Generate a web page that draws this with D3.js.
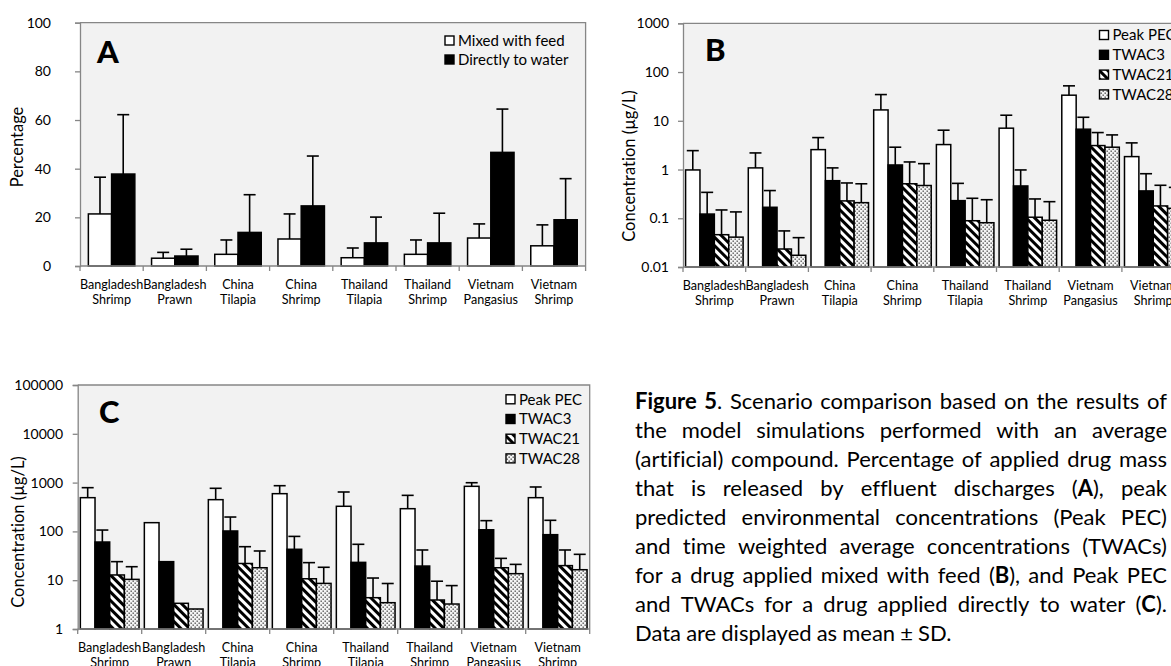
<!DOCTYPE html>
<html>
<head>
<meta charset="utf-8">
<script src="https://cdn.jsdelivr.net/npm/d3@7"></script>
<style>
  body { margin: 0; background: #fff; }
  svg { display: block; }
  text { font-variant-ligatures: none; font-feature-settings: "liga" 0; }
</style>
</head>
<body>
<svg id="fig" width="1171" height="666"></svg>
<script>
// ---- data -------------------------------------------------------------
const categories = ["Bangladesh Shrimp", "Bangladesh Prawn", "China Tilapia", "China Shrimp",
                    "Thailand Tilapia", "Thailand Shrimp", "Vietnam Pangasius", "Vietnam Shrimp"];

// A: percentage of applied drug mass released by effluent discharges
const feedMean  = [21.4, 3.2, 4.8, 11.1, 3.4, 4.8, 11.5, 8.3];
const feedSD    = [15.1, 2.4, 5.9, 10.3, 4.0, 5.9, 5.8, 8.6];
const waterMean = [37.8, 4.1, 13.8, 24.7, 9.5, 9.5, 46.7, 19.0];
const waterSD   = [24.4, 2.8, 15.5, 20.5, 10.6, 12.2, 17.8, 16.9];

// B: concentrations (µg/L), drug mixed with feed
const peakB    = [0.98, 1.08, 2.56, 16.7, 3.25, 7.05, 33.5, 1.84];
const peakBsd  = [1.46, 1.11, 1.96, 17.8, 3.16, 5.95, 18.6, 1.68];
const twac3B   = [0.122, 0.168, 0.59, 1.24, 0.23, 0.46, 6.72, 0.364];
const twac3Bsd = [0.218, 0.202, 0.49, 1.63, 0.29, 0.52, 5.08, 0.456];
const twac21B  = [0.046, 0.0234, 0.227, 0.51, 0.089, 0.105, 3.10, 0.179];
const twac21Bsd= [0.102, 0.0316, 0.303, 0.92, 0.168, 0.144, 2.63, 0.296];
const twac28B  = [0.041, 0.0174, 0.209, 0.47, 0.081, 0.091, 2.87, 0.16];
const twac28Bsd= [0.094, 0.0226, 0.301, 0.85, 0.159, 0.128, 2.26, 0.27];

// C: concentrations (µg/L), drug applied directly to water
const peakC    = [491, 151, 447, 593, 327, 292, 839, 491];
const peakCsd  = [296, 0, 317, 271, 315, 256, 156, 322];
const twac3C   = [60.6, 24, 102, 43, 23.2, 19.5, 108, 85.7];
const twac3Csd = [46, 0, 95, 36, 31.2, 22.1, 58, 83];
const twac21C  = [12.8, 3.36, 22, 10.7, 4.38, 3.93, 18, 19.9];
const twac21Csd= [11.2, 0, 26.6, 12.2, 6.7, 5.6, 10, 21.7];
const twac28C  = [10.4, 2.57, 18, 8.6, 3.46, 3.25, 13.6, 16.4];
const twac28Csd= [8.5, 0, 21.7, 9.8, 5.1, 4.5, 7.5, 17.5];

const ticksA = [0, 20, 40, 60, 80, 100];
const ticksB = [0.01, 0.1, 1, 10, 100, 1000];
const ticksC = [1, 10, 100, 1000, 10000, 100000];

const seriesNamesA = ["Mixed with feed", "Directly to water"];
const seriesNamesBC = ["Peak PEC", "TWAC3", "TWAC21", "TWAC28"];

const captionLines = [
  "**Figure 5**. Scenario comparison based on the results of",
  "the model simulations performed with an average",
  "(artificial) compound. Percentage of applied drug mass",
  "that is released by effluent discharges (**A**), peak",
  "predicted environmental concentrations (Peak PEC)",
  "and time weighted average concentrations (TWACs)",
  "for a drug applied mixed with feed (**B**), and Peak PEC",
  "and TWACs for a drug applied directly to water (**C**).",
  "Data are displayed as mean ± SD."
];

// ---- drawing ----------------------------------------------------------
const FONT = "Lato, 'Open Sans', sans-serif";
const AXIS = "#868686";
const svg = d3.select("#fig");
const defs = svg.append("defs");

// wide downward diagonal stripes
const hatch = defs.append("pattern").attr("id", "hatch")
  .attr("patternUnits", "userSpaceOnUse").attr("width", 6).attr("height", 6)
  .attr("patternTransform", "rotate(-45)");
hatch.append("rect").attr("width", 6).attr("height", 6).attr("fill", "#fff");
hatch.append("rect").attr("width", 3).attr("height", 6).attr("fill", "#000");

// dotted grid
const dots = defs.append("pattern").attr("id", "dots")
  .attr("patternUnits", "userSpaceOnUse").attr("width", 4).attr("height", 4);
dots.append("rect").attr("width", 4).attr("height", 4).attr("fill", "#f4f4f4");
dots.append("rect").attr("x", 0.5).attr("y", 0.5).attr("width", 1.4).attr("height", 1.4).attr("fill", "#555");
dots.append("rect").attr("x", 2.5).attr("y", 2.5).attr("width", 1.4).attr("height", 1.4).attr("fill", "#555");

const fillsBC = ["#fff", "#000", "url(#hatch)", "url(#dots)"];
const fillsA = ["#fff", "#000"];

function drawPanel(cfg) {
  const g = svg.append("g");
  const x = d3.scaleBand().domain(categories)
    .range([cfg.left, cfg.right]).paddingInner(0).paddingOuter(0);
  const xi = d3.scaleBand().domain(d3.range(cfg.series.length))
    .range([0, x.bandwidth()]).paddingInner(0).paddingOuter(cfg.groupPad);
  const y = (cfg.log ? d3.scaleLog() : d3.scaleLinear())
    .domain(cfg.domain).range([cfg.bottom, cfg.top]);
  const base = cfg.domain[0];

  // plot area
  g.append("rect").attr("x", cfg.left).attr("y", cfg.top)
    .attr("width", cfg.right - cfg.left).attr("height", cfg.bottom - cfg.top)
    .attr("fill", "#f2f2f2");

  // bars
  cfg.series.forEach((s, si) => {
    g.append("g").selectAll("rect").data(s.mean).join("rect")
      .attr("x", (d, i) => x(categories[i]) + xi(si))
      .attr("y", d => y(d))
      .attr("width", xi.bandwidth())
      .attr("height", d => y(base) - y(d))
      .attr("fill", cfg.fills[si])
      .attr("stroke", "#000").attr("stroke-width", 1.5);
  });

  // error bars (upper half, mean + SD)
  cfg.series.forEach((s, si) => {
    const eg = g.append("g").attr("stroke", "#000").attr("stroke-width", 1.6).attr("fill", "none");
    s.mean.forEach((m, i) => {
      if (!s.sd[i]) return;
      const cx = x(categories[i]) + xi(si) + xi.bandwidth() / 2;
      const yt = y(m + s.sd[i]);
      eg.append("line").attr("x1", cx).attr("x2", cx).attr("y1", y(m)).attr("y2", yt);
      eg.append("line").attr("x1", cx - 6).attr("x2", cx + 6).attr("y1", yt).attr("y2", yt);
    });
  });

  // frame: top and right
  g.append("path")
    .attr("d", `M${cfg.left},${cfg.top}H${cfg.right}V${cfg.bottom}`)
    .attr("fill", "none").attr("stroke", AXIS).attr("stroke-width", 1.3);

  // y axis
  const ya = d3.axisLeft(y).tickValues(cfg.ticks).tickSize(5)
    .tickPadding(cfg.left - cfg.labelRight - 5)
    .tickFormat(d => String(d));
  const yg = g.append("g").attr("transform", `translate(${cfg.left},0)`).call(ya);
  yg.select(".domain").attr("stroke", AXIS).attr("stroke-width", 1.3);
  yg.selectAll(".tick line").attr("stroke", AXIS).attr("stroke-width", 1.3);
  yg.selectAll(".tick text").attr("fill", "#000")
    .style("font-family", FONT).style("font-size", "14px");

  // x axis: baseline with ticks at category boundaries
  g.append("line").attr("x1", cfg.left).attr("x2", cfg.right)
    .attr("y1", cfg.bottom).attr("y2", cfg.bottom)
    .attr("stroke", AXIS).attr("stroke-width", 1.3);
  g.append("g").selectAll("line").data(d3.range(categories.length + 1)).join("line")
    .attr("x1", i => cfg.left + i * x.step()).attr("x2", i => cfg.left + i * x.step())
    .attr("y1", cfg.bottom).attr("y2", cfg.bottom + 5)
    .attr("stroke", AXIS).attr("stroke-width", 1.3);

  const xl = g.append("g").style("font-family", FONT).style("font-size", "12.6px")
    .attr("text-anchor", "middle");
  categories.forEach(c => {
    const parts = c.split(" ");
    const cx = x(c) + x.bandwidth() / 2;
    parts.forEach((p, k) => {
      xl.append("text").attr("x", cx).attr("y", cfg.bottom + 23 + k * 15).text(p);
    });
  });

  // axis title
  g.append("text")
    .attr("transform", `translate(${cfg.titleX},${cfg.titleY}) rotate(-90)`)
    .attr("text-anchor", "middle").attr("dy", "0.35em")
    .style("font-family", FONT).style("font-size", "16.5px")
    .text(cfg.title);

  // panel letter
  g.append("text").attr("x", cfg.letterX).attr("y", cfg.letterY)
    .style("font-family", FONT).style("font-weight", 900).style("font-size", "31px")
    .text(cfg.letter);

  // legend
  const lg = g.append("g").style("font-family", FONT).style("font-size", "15px");
  cfg.legend.forEach((name, k) => {
    const cy = cfg.legendY + k * cfg.legendStep;
    lg.append("rect").attr("x", cfg.legendX).attr("y", cy - 4.5)
      .attr("width", 9).attr("height", 9)
      .attr("fill", cfg.fills[k]).attr("stroke", "#000").attr("stroke-width", 1.4);
    lg.append("text").attr("x", cfg.legendX + 13).attr("y", cy).attr("dy", "0.36em").text(name);
  });
}

drawPanel({
  left: 80, right: 585.6, top: 22.7, bottom: 266, domain: [0, 100], log: false,
  ticks: ticksA, labelRight: 51, groupPad: 0.36,
  series: [{mean: feedMean, sd: feedSD}, {mean: waterMean, sd: waterSD}],
  fills: fillsA, title: "Percentage", titleX: 17.5, titleY: 147,
  letter: "A", letterX: 97, letterY: 62.5,
  legend: seriesNamesA, legendX: 445, legendY: 40.5, legendStep: 19
});

drawPanel({
  left: 683, right: 683 + 8 * 62.7, top: 23.3, bottom: 267, domain: [0.01, 1000], log: true,
  ticks: ticksB, labelRight: 669, groupPad: 0.18,
  series: [{mean: peakB, sd: peakBsd}, {mean: twac3B, sd: twac3Bsd},
           {mean: twac21B, sd: twac21Bsd}, {mean: twac28B, sd: twac28Bsd}],
  fills: fillsBC, title: "Concentration (µg/L)", titleX: 629, titleY: 166,
  letter: "B", letterX: 705, letterY: 60.5,
  legend: seriesNamesBC, legendX: 1099.5, legendY: 35, legendStep: 19.8
});

drawPanel({
  left: 77.7, right: 589.7, top: 385, bottom: 629, domain: [1, 100000], log: true,
  ticks: ticksC, labelRight: 63, groupPad: 0.18,
  series: [{mean: peakC, sd: peakCsd}, {mean: twac3C, sd: twac3Csd},
           {mean: twac21C, sd: twac21Csd}, {mean: twac28C, sd: twac28Csd}],
  fills: fillsBC, title: "Concentration (µg/L)", titleX: 18, titleY: 532,
  letter: "C", letterX: 99, letterY: 423,
  legend: seriesNamesBC, legendX: 506, legendY: 399.3, legendStep: 19.7
});

// ---- caption (justified block) --------------------------------------
const capX = 635, capRight = 1167, capTop = 409, capStep = 29;
const cap = svg.append("g").style("font-family", FONT).style("fill", "#000");
let capSize = 20;
{
  const probe = cap.append("text").style("font-size", "20px").text(captionLines[captionLines.length - 1]);
  capSize = 20 * 320 / probe.node().getComputedTextLength();
  probe.remove();
}
cap.style("font-size", capSize + "px");

// split a line into words, each word a list of {t, bold} runs
function parseWords(line) {
  const words = [[]];
  line.split(/(\*\*[^*]+\*\*)/).filter(s => s.length).forEach(seg => {
    const bold = seg.startsWith("**");
    const txt = bold ? seg.slice(2, -2) : seg;
    txt.split(" ").forEach((piece, k) => {
      if (k > 0) words.push([]);
      if (piece) words[words.length - 1].push({t: piece, bold});
    });
  });
  return words.filter(w => w.length);
}

captionLines.forEach((line, li) => {
  const yy = capTop + li * capStep;
  const words = parseWords(line);
  const nodes = words.map(w => {
    const t = cap.append("text").attr("y", yy);
    w.forEach(r => t.append("tspan").style("font-weight", r.bold ? 700 : 400).text(r.t));
    return t;
  });
  const widths = nodes.map(n => n.node().getComputedTextLength());
  const last = li === captionLines.length - 1;
  const space = capSize * 0.23;
  const gap = last ? space : (capRight - capX - d3.sum(widths)) / (words.length - 1);
  let cx = capX;
  nodes.forEach((n, k) => { n.attr("x", cx); cx += widths[k] + gap; });
});
</script>
</body>
</html>
